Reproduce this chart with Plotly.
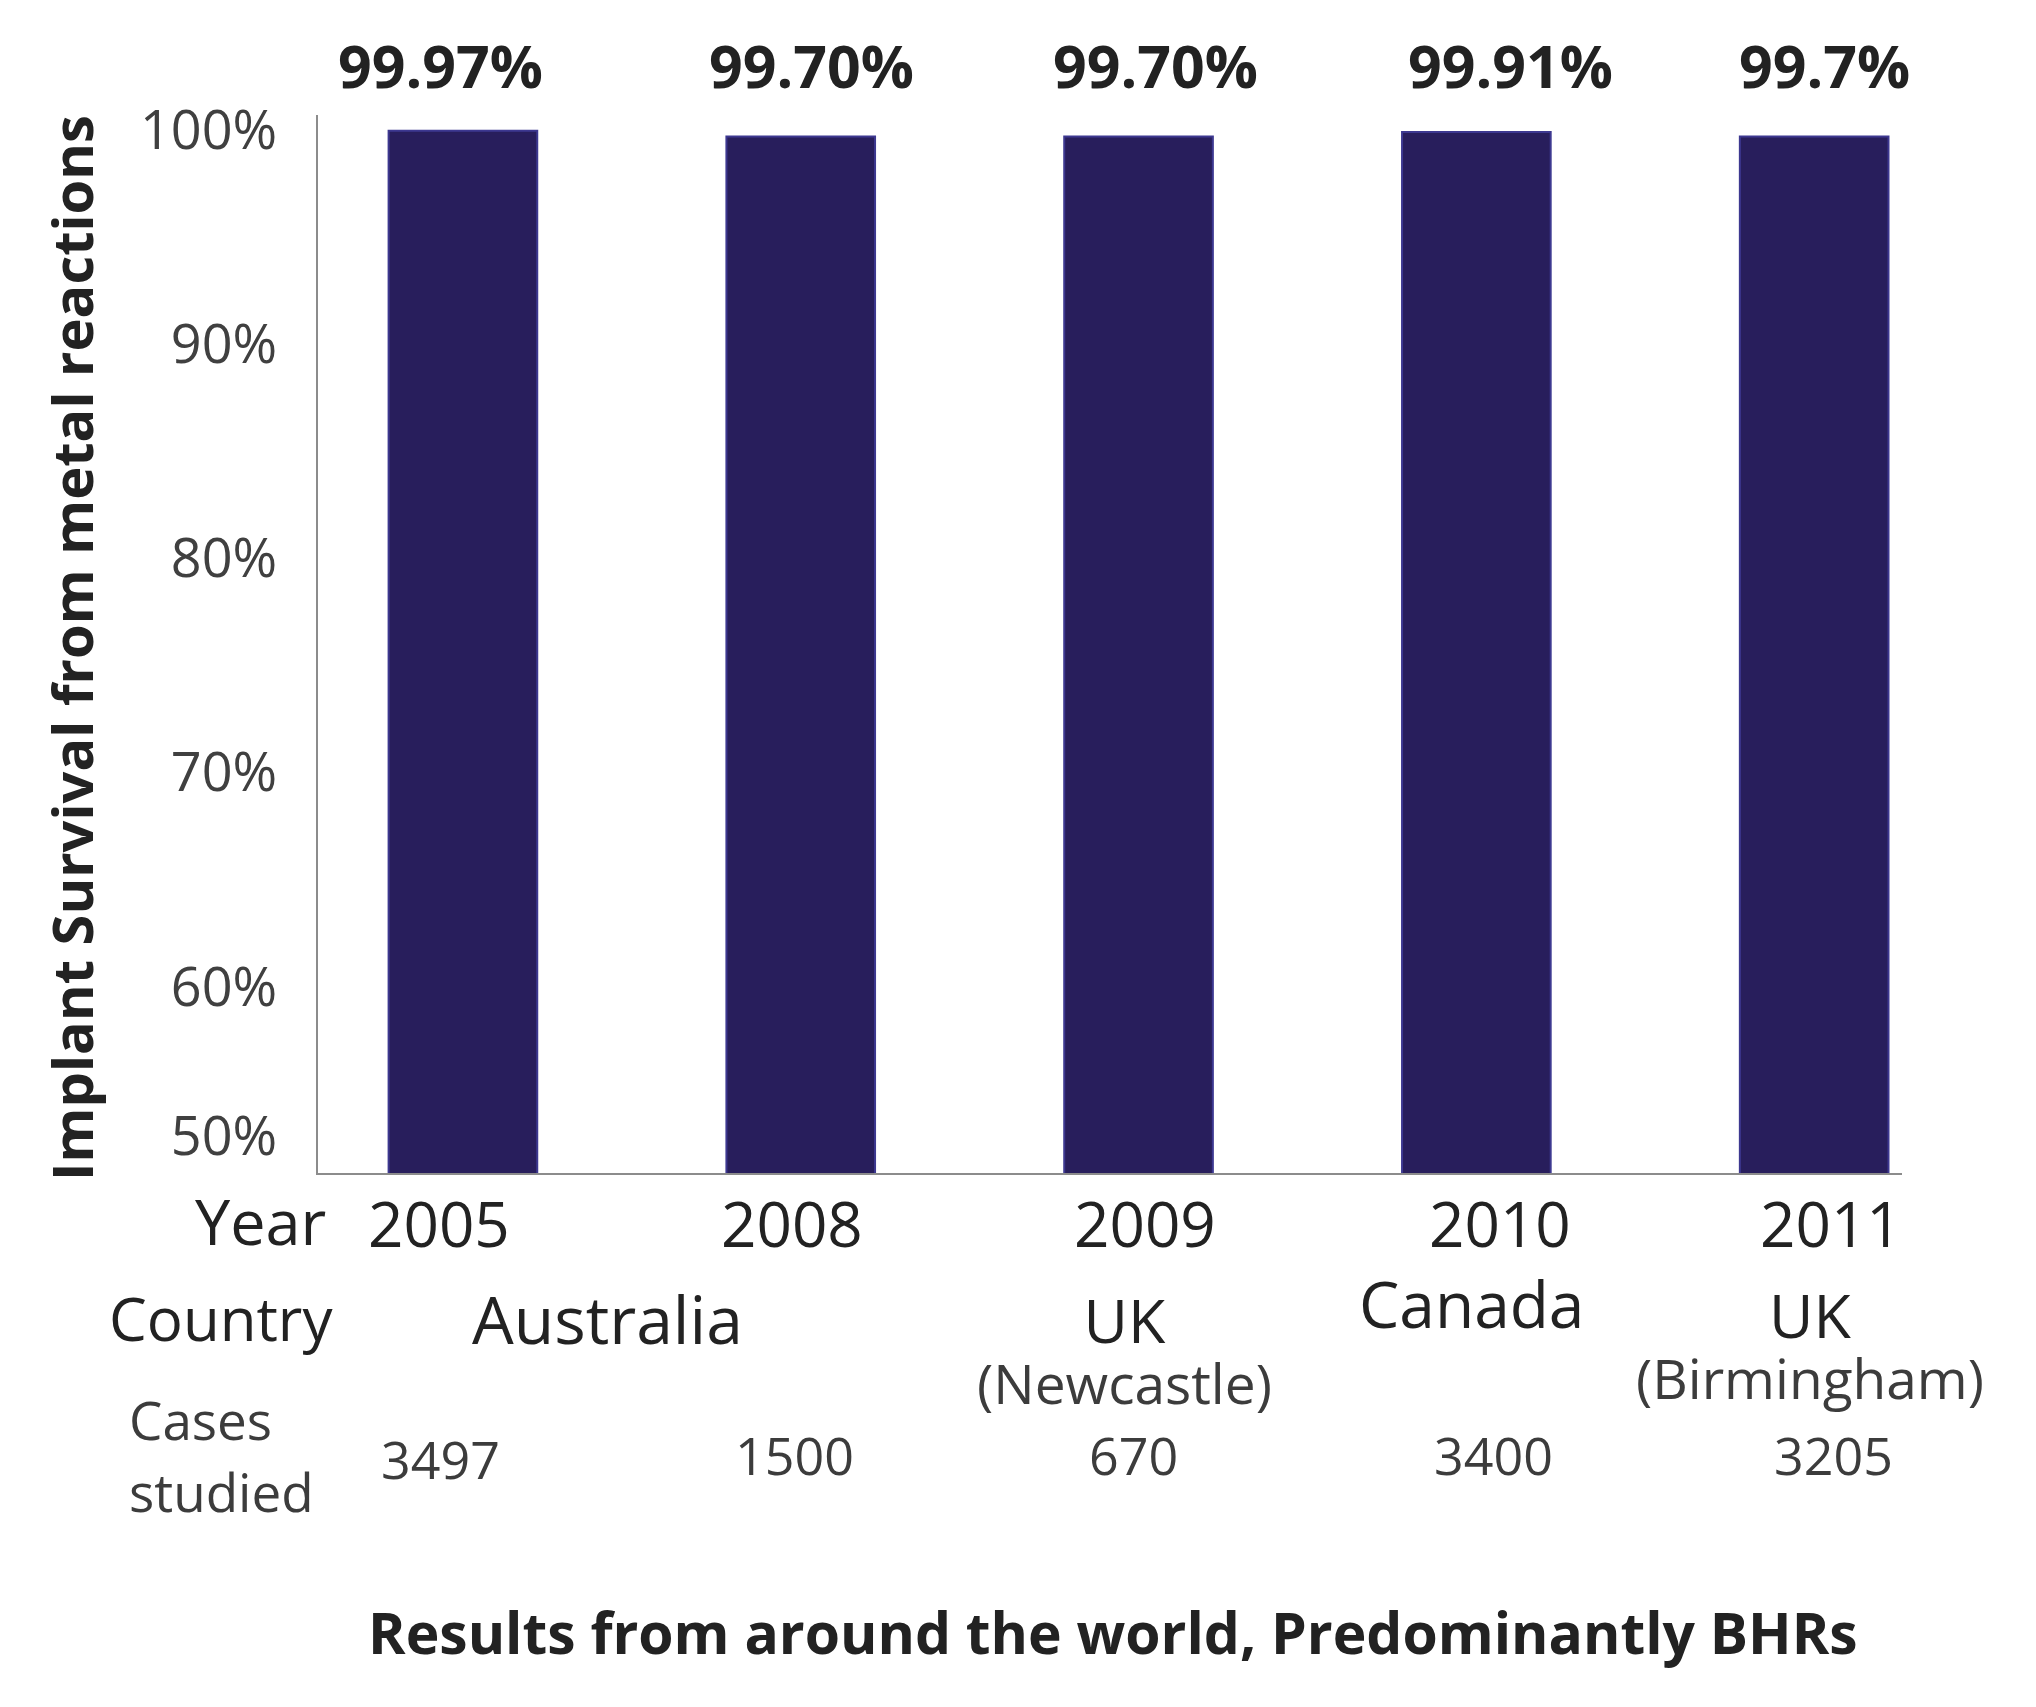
import plotly.graph_objects as go

# ---- data ----
years = ["2005", "2008", "2009", "2010", "2011"]
survival = [99.97, 99.70, 99.70, 99.91, 99.7]
value_labels = ["99.97%", "99.70%", "99.70%", "99.91%", "99.7%"]
countries = ["Australia", "UK", "Canada", "UK"]
country_sub = ["", "(Newcastle)", "", "(Birmingham)"]
cases = ["3497", "1500", "670", "3400", "3205"]
# the reference squeezes its lowest "50%" label just above the baseline
ytick_vals = [53, 60, 70, 80, 90, 100]
ytick_text = ["50%", "60%", "70%", "80%", "90%", "100%"]

FONT = "Open Sans"
DARK = "#222222"
GREY = "#3c3c3c"


def note(**kw):
    d = dict(showarrow=False, xanchor="center", yanchor="middle")
    d.update(kw)
    return d


fig = go.Figure()
fig.add_trace(go.Bar(
    x=list(range(len(years))),
    y=survival,
    width=0.44,
    marker=dict(color="#281e5c", line=dict(color="#3d3890", width=2)),
    hoverinfo="skip",
))

ann = []
# value labels above bars
val_dx = [-22, 11, 17, 34, 10]
for i, t in enumerate(value_labels):
    ann.append(note(x=i, xref="x", y=1, yref="paper", yshift=50, xshift=val_dx[i],
                    text=f"<b>{t}</b>",
                    font=dict(family=FONT, size=59, color=DARK)))
# year row
yr_dx = [-24, -9, 6, 24, 17]
for i, t in enumerate(years):
    ann.append(note(x=i, xref="x", y=0, yref="paper", yshift=-50, xshift=yr_dx[i],
                    text=t, font=dict(family=FONT, size=62, color=DARK)))
ann.append(note(x=0, xref="paper", y=0, yref="paper", xshift=-58, yshift=-47,
                text="Year", font=dict(family=FONT, size=63, color=DARK)))
# country row
ann.append(note(x=0, xref="paper", y=0, yref="paper", xshift=-97, yshift=-145,
                text="Country", font=dict(family=FONT, size=60, color=DARK)))
country_x = [0.5, 2, 3, 4]
country_dx = [-24, -14, -5, -4]
country_dy = [-145, -176, -130, -171]
country_size = [66, 61, 64, 61]
for j, t in enumerate(countries):
    if country_sub[j]:
        txt = (f"<span style='font-size:{country_size[j]}px;color:{DARK}'>{t}</span>"
               f"<br><span style='font-size:55px'>{country_sub[j]}</span>")
        ann.append(note(x=country_x[j], xref="x", y=0, yref="paper",
                        xshift=country_dx[j], yshift=country_dy[j], text=txt,
                        font=dict(family=FONT, size=47, color=GREY)))
    else:
        ann.append(note(x=country_x[j], xref="x", y=0, yref="paper",
                        xshift=country_dx[j], yshift=country_dy[j],
                        text=t, font=dict(family=FONT, size=country_size[j], color=DARK)))
# cases row
ann.append(note(x=0, xref="paper", y=0, yref="paper", xshift=-191, yshift=-246,
                xanchor="left", text="Cases",
                font=dict(family=FONT, size=53, color=GREY)))
ann.append(note(x=0, xref="paper", y=0, yref="paper", xshift=-191, yshift=-318,
                xanchor="left", text="studied",
                font=dict(family=FONT, size=53, color=GREY)))
case_dx = [-22, -6, -5, 17, 19]
case_dy = [-285, -281, -281, -281, -281]
for i, t in enumerate(cases):
    ann.append(note(x=i, xref="x", y=0, yref="paper", xshift=case_dx[i], yshift=case_dy[i],
                    text=t, font=dict(family=FONT, size=52, color=GREY)))
# bottom caption
ann.append(note(x=0.5, xref="paper", y=0, yref="paper", xshift=3, yshift=-459,
                text="<b>Results from around the world, Predominantly BHRs</b>",
                font=dict(family=FONT, size=57, color=DARK)))
# y-axis title
ann.append(note(x=0, xref="paper", y=0.5, yref="paper", xshift=-247, yshift=-4,
                text="<b>Implant Survival from metal reactions</b>", textangle=-90,
                font=dict(family=FONT, size=56, color=DARK)))

fig.update_layout(
    width=2036, height=1707,
    margin=dict(l=318, r=134, t=115, b=534),
    paper_bgcolor="white", plot_bgcolor="white",
    showlegend=False,
    annotations=ann,
    xaxis=dict(range=[-0.429, 4.26], showticklabels=False, showgrid=False, zeroline=False,
               showline=True, linecolor="#8c8c8c", linewidth=2, ticks=""),
    yaxis=dict(range=[51.3, 100.7], tickvals=ytick_vals, ticktext=ytick_text,
               showgrid=False, zeroline=False, showline=True, linecolor="#8c8c8c",
               linewidth=2, ticks="", ticklabelstandoff=28,
               tickfont=dict(family=FONT, size=54, color="#404040")),
)

fig.write_html("out.html")
